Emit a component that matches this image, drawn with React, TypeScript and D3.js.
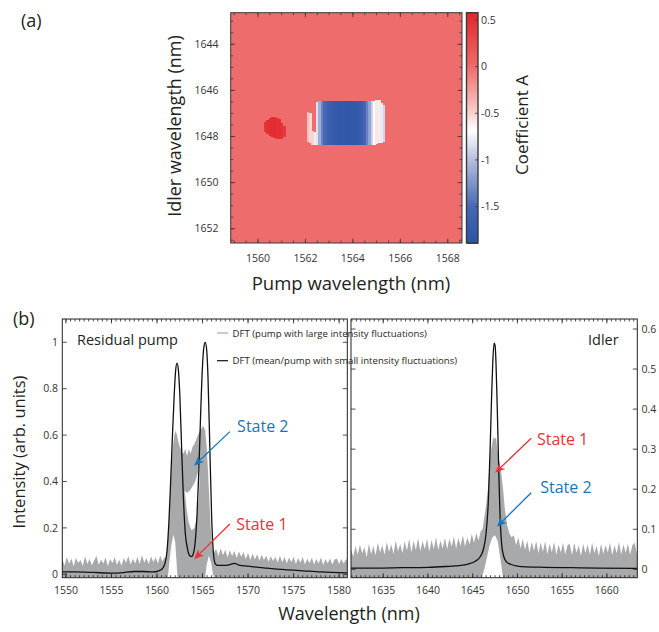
import React from 'react';
import * as d3 from 'd3';

const W = 659;
const H = 632;
const FONT = "'Open Sans', 'Noto Sans', sans-serif";
const INK = '#231f20';
const GRAY = '#a7a9ab';
const RED = '#ec3237';
const BLUE = '#1b75bc';

// ---------- (a) coefficient map ----------
const pumpTicks = [1560, 1562, 1564, 1566, 1568];
const idlerTicks = [1644, 1646, 1648, 1650, 1652];
const coefTicks = [0.5, 0, -0.5, -1, -1.5];
const coefStops = [-1.89, -1.5, -1.0, -0.68, -0.45, 0, 0.578];
const coefColors = ['#2b53a4', '#4767b4', '#b4bde0', '#ffffff', '#f9c6c4', '#ef6c6c', '#e3262b'];
const backgroundCoef = 0;

// red patch (columns of 0.1 nm)
const blobPump = [1560.3, 1560.4, 1560.5, 1560.6, 1560.7, 1560.8, 1560.9, 1561.0, 1561.1];
const blobTop = [1647.35, 1647.28, 1647.2, 1647.17, 1647.17, 1647.2, 1647.25, 1647.4, 1647.55];
const blobBottom = [1647.8, 1647.9, 1647.98, 1648.02, 1648.05, 1648.1, 1648.12, 1648.1, 1648.02];
const blobValue = [0.45, 0.5, 0.52, 0.52, 0.52, 0.5, 0.5, 0.48, 0.42];

// blue block (columns of 0.1 nm)
const blockPump = [1562.1, 1562.2, 1562.3, 1562.4, 1562.5, 1562.6, 1562.7, 1562.8, 1562.9, 1563.0, 1563.1, 1563.2, 1563.3, 1563.4, 1563.5, 1563.6, 1563.7, 1563.8, 1563.9, 1564.0, 1564.1, 1564.2, 1564.3, 1564.4, 1564.5, 1564.6, 1564.7, 1564.8, 1564.9, 1565.0, 1565.1, 1565.2, 1565.3];
const blockTop = [1646.95, 1647.0, 1647.75, 1647.8, 1646.5, 1646.45, 1646.45, 1646.45, 1646.45, 1646.45, 1646.45, 1646.45, 1646.45, 1646.45, 1646.45, 1646.45, 1646.45, 1646.45, 1646.45, 1646.45, 1646.45, 1646.45, 1646.45, 1646.45, 1646.45, 1646.45, 1646.45, 1646.45, 1646.45, 1646.42, 1646.4, 1646.55, 1646.62];
const blockBottom = [1648.25, 1648.3, 1648.35, 1648.37, 1648.37, 1648.37, 1648.38, 1648.38, 1648.38, 1648.38, 1648.38, 1648.38, 1648.38, 1648.38, 1648.38, 1648.38, 1648.38, 1648.38, 1648.38, 1648.38, 1648.38, 1648.38, 1648.38, 1648.37, 1648.37, 1648.37, 1648.36, 1648.36, 1648.35, 1648.33, 1648.3, 1648.3, 1648.25];
const blockValue = [-0.42, -0.52, -0.5, -0.6, -0.82, -1.1, -1.35, -1.5, -1.6, -1.66, -1.7, -1.73, -1.76, -1.78, -1.8, -1.77, -1.8, -1.82, -1.79, -1.78, -1.8, -1.76, -1.72, -1.66, -1.5, -1.35, -1.15, -0.9, -0.68, -0.58, -0.6, -0.78, -0.88];

// ---------- (b) spectra ----------
const pumpWlTicks = [1550, 1555, 1560, 1565, 1570, 1575, 1580];
const idlerWlTicks = [1635, 1640, 1645, 1650, 1655, 1660];
const leftIntTicks = [0, 0.2, 0.4, 0.6, 0.8, 1];
const rightIntTicks = [0, 0.1, 0.2, 0.3, 0.4, 0.5, 0.6];

// mean spectrum, residual pump
const pumpMeanWl = [1549.6, 1551, 1553, 1555, 1556, 1557.5, 1558.5, 1559.5, 1560.2, 1560.6, 1560.9, 1561.1, 1561.3, 1561.5, 1561.7, 1561.9, 1562.05, 1562.2, 1562.35, 1562.5, 1562.7, 1562.9, 1563.1, 1563.35, 1563.6, 1563.8, 1564.0, 1564.2, 1564.4, 1564.6, 1564.8, 1565.0, 1565.15, 1565.3, 1565.45, 1565.6, 1565.8, 1566.0, 1566.2, 1566.4, 1566.7, 1567.5, 1568.0, 1568.5, 1569, 1570, 1572, 1574, 1576, 1578, 1580.9];
const pumpMean = [0.01, 0.01, 0.008, 0.005, 0.006, 0.012, 0.012, 0.01, 0.015, 0.025, 0.05, 0.1, 0.22, 0.4, 0.6, 0.78, 0.88, 0.91, 0.88, 0.78, 0.55, 0.33, 0.18, 0.11, 0.08, 0.076, 0.09, 0.14, 0.26, 0.45, 0.7, 0.9, 0.98, 1.0, 0.97, 0.85, 0.55, 0.25, 0.09, 0.045, 0.038, 0.038, 0.042, 0.047, 0.04, 0.035, 0.027, 0.02, 0.015, 0.01, 0.006];

// single-shot envelope, residual pump
const pumpFloorAStart = 1549.6;
const pumpFloorA = [0.065, 0.038, 0.074, 0.045, 0.068, 0.034, 0.071, 0.049, 0.062, 0.036, 0.078, 0.044, 0.066, 0.039, 0.059, 0.08, 0.041, 0.063, 0.046, 0.072, 0.035, 0.066, 0.048, 0.075, 0.04, 0.063, 0.037, 0.07, 0.05, 0.079, 0.042, 0.067, 0.046, 0.074, 0.044, 0.083, 0.05, 0.07, 0.043, 0.078, 0.052, 0.073, 0.047, 0.08, 0.055, 0.075];
const pumpPeakWl = [1561.0, 1561.15, 1561.3, 1561.45, 1561.6, 1561.75, 1561.9, 1562.05, 1562.2, 1562.35, 1562.5, 1562.7, 1562.9, 1563.1, 1563.3, 1563.5, 1563.7, 1563.9, 1564.1, 1564.3, 1564.5, 1564.7, 1564.9, 1565.1, 1565.3, 1565.45, 1565.6, 1565.75, 1565.9, 1566.05, 1566.2, 1566.35];
const pumpPeakHi = [0.07, 0.12, 0.22, 0.36, 0.47, 0.55, 0.6, 0.62, 0.6, 0.57, 0.55, 0.53, 0.52, 0.54, 0.51, 0.54, 0.52, 0.55, 0.56, 0.58, 0.6, 0.62, 0.63, 0.64, 0.62, 0.55, 0.45, 0.32, 0.2, 0.12, 0.09, 0.1];
const pumpFloorBStart = 1566.5;
const pumpFloorB = [0.108, 0.078, 0.112, 0.082, 0.106, 0.072, 0.104, 0.079, 0.1, 0.07, 0.098, 0.076, 0.095, 0.066, 0.093, 0.062, 0.09, 0.064, 0.086, 0.058, 0.084, 0.062, 0.08, 0.054, 0.078, 0.057, 0.076, 0.05, 0.08, 0.052, 0.074, 0.047, 0.072, 0.052, 0.076, 0.044, 0.07, 0.05, 0.074, 0.042, 0.068, 0.048, 0.071, 0.042, 0.066, 0.046, 0.072, 0.04, 0.066, 0.047, 0.069, 0.042, 0.064, 0.068, 0.044, 0.066, 0.047, 0.064, 0.066];
const pumpLowWl = [1549.4, 1561.2, 1561.35, 1561.55, 1561.8, 1562.0, 1562.15, 1562.25, 1565.3, 1565.45, 1565.7, 1565.95, 1566.15, 1566.3, 1581.2];
const pumpLow = [-0.012, -0.012, 0.05, 0.12, 0.17, 0.14, 0.05, -0.012, -0.012, 0.04, 0.08, 0.05, 0.0, -0.012, -0.012];
const pumpGapWl = [1563.05, 1563.3, 1563.6, 1563.9, 1564.2, 1564.5, 1564.75, 1564.6, 1564.35, 1564.1, 1563.8, 1563.5, 1563.25];
const pumpGap = [0.36, 0.35, 0.36, 0.38, 0.4, 0.44, 0.5, 0.33, 0.24, 0.2, 0.19, 0.22, 0.28];

// mean spectrum, idler
const idlerMeanWl = [1631.4, 1634, 1637, 1640, 1642, 1643.5, 1644.5, 1645.3, 1645.8, 1646.2, 1646.5, 1646.75, 1646.95, 1647.1, 1647.25, 1647.4, 1647.5, 1647.6, 1647.75, 1647.9, 1648.05, 1648.25, 1648.5, 1648.8, 1649.3, 1650, 1651, 1653, 1656, 1659, 1663.4];
const idlerMean = [0.003, 0.003, 0.004, 0.005, 0.007, 0.009, 0.013, 0.02, 0.03, 0.05, 0.09, 0.17, 0.3, 0.42, 0.52, 0.565, 0.56, 0.52, 0.4, 0.26, 0.14, 0.06, 0.03, 0.018, 0.012, 0.008, 0.006, 0.005, 0.004, 0.003, 0.002];

// single-shot envelope, idler
const idlerFloorAStart = 1631.4;
const idlerFloorA = [0.05, 0.032, 0.058, 0.036, 0.062, 0.04, 0.055, 0.03, 0.064, 0.038, 0.058, 0.035, 0.066, 0.042, 0.06, 0.036, 0.068, 0.044, 0.062, 0.038, 0.072, 0.045, 0.064, 0.04, 0.07, 0.046, 0.076, 0.042, 0.072, 0.048, 0.078, 0.045, 0.07, 0.05, 0.076, 0.044, 0.074, 0.05, 0.08, 0.048, 0.072, 0.052, 0.078, 0.05, 0.076, 0.056, 0.082, 0.052, 0.078, 0.058, 0.085, 0.056, 0.08, 0.062, 0.088, 0.066, 0.09, 0.072, 0.095];
const idlerPeakWl = [1646.1, 1646.3, 1646.5, 1646.7, 1646.85, 1647.0, 1647.15, 1647.3, 1647.45, 1647.6, 1647.75, 1647.9, 1648.05, 1648.2, 1648.4, 1648.6, 1648.85, 1649.1, 1649.35];
const idlerPeakHi = [0.1, 0.13, 0.16, 0.2, 0.25, 0.29, 0.31, 0.33, 0.325, 0.33, 0.3, 0.28, 0.26, 0.24, 0.2, 0.15, 0.11, 0.09, 0.08];
const idlerFloorBStart = 1649.6;
const idlerFloorB = [0.085, 0.06, 0.08, 0.052, 0.076, 0.048, 0.072, 0.042, 0.068, 0.046, 0.07, 0.04, 0.066, 0.044, 0.07, 0.038, 0.064, 0.042, 0.068, 0.036, 0.062, 0.042, 0.066, 0.037, 0.06, 0.064, 0.035, 0.066, 0.041, 0.06, 0.034, 0.064, 0.04, 0.062, 0.036, 0.066, 0.04, 0.058, 0.033, 0.064, 0.038, 0.06, 0.042, 0.066, 0.035, 0.06, 0.04, 0.068, 0.037, 0.062, 0.041, 0.064, 0.036, 0.06, 0.066, 0.04, 0.062];
const idlerLowWl = [1631.2, 1646.0, 1646.3, 1646.6, 1646.9, 1647.2, 1647.5, 1647.8, 1648.0, 1648.2, 1648.4, 1663.6];
const idlerLow = [-0.022, -0.022, 0.0, 0.03, 0.06, 0.08, 0.085, 0.07, 0.04, 0.01, -0.022, -0.022];

const step = 0.25;

const pumpNotes = [
  { label: 'State 2', color: BLUE, tail: [1568.0, 0.615], tip: [1564.07, 0.468], text: [1568.8, 0.615] },
  { label: 'State 1', color: RED, tail: [1568.0, 0.217], tip: [1564.07, 0.065], text: [1568.7, 0.19] },
];
const idlerNotes = [
  { label: 'State 1', color: RED, tail: [1651.54, 0.327], tip: [1647.51, 0.241], text: [1652.18, 0.31] },
  { label: 'State 2', color: BLUE, tail: [1651.54, 0.191], tip: [1647.7, 0.106], text: [1652.55, 0.19] },
];

const legendItems = [
  { label: 'DFT (pump with large intensity fluctuations)', color: GRAY },
  { label: 'DFT (mean/pump with small intensity fluctuations)', color: '#111' },
];

const stepsIn = (lo: number, hi: number, s: number) =>
  d3.range(Math.ceil(lo / s - 1e-9), Math.floor(hi / s + 1e-9) + 1).map(k => +(k * s).toFixed(4));

function Arrow({ x1, y1, x2, y2, color }: any) {
  const a = Math.atan2(y2 - y1, x2 - x1);
  const L = 10, w = 4.2;
  const bx = x2 - L * Math.cos(a), by = y2 - L * Math.sin(a);
  const nx = x2 - L * 0.72 * Math.cos(a), ny = y2 - L * 0.72 * Math.sin(a);
  const px = -Math.sin(a) * w, py = Math.cos(a) * w;
  return (
    <g>
      <line x1={x1} y1={y1} x2={nx} y2={ny} stroke={color} strokeWidth={1.3} />
      <polygon points={`${x2},${y2} ${bx + px},${by + py} ${nx},${ny} ${bx - px},${by - py}`} fill={color} />
    </g>
  );
}

function xTickMarks(sx: any, vals: number[], top: number, bottom: number, len: number, key: string) {
  return vals.map((v, i) => (
    <g key={key + i}>
      <line x1={sx(v)} x2={sx(v)} y1={bottom} y2={bottom - len} />
      <line x1={sx(v)} x2={sx(v)} y1={top} y2={top + len} />
    </g>
  ));
}

function yTickMarks(sy: any, vals: number[], left: number, right: number, len: number, key: string) {
  return vals.map((v, i) => (
    <g key={key + i}>
      <line y1={sy(v)} y2={sy(v)} x1={left} x2={left + len} />
      <line y1={sy(v)} y2={sy(v)} x1={right} x2={right - len} />
    </g>
  ));
}

function envelope(sx: any, sy: any, floorAStart: number, floorA: number[], peakWl: number[], peakHi: number[], floorBStart: number, floorB: number[], lowWl: number[], low: number[]) {
  const upper: [number, number][] = [
    ...floorA.map((v, i) => [floorAStart + i * step, v] as [number, number]),
    ...peakWl.map((w, i) => [w, peakHi[i]] as [number, number]),
    ...floorB.map((v, i) => [floorBStart + i * step, v] as [number, number]),
  ];
  const lower: [number, number][] = lowWl.map((w, i) => [w, low[i]] as [number, number]).reverse();
  const pts = [...upper, ...lower].map(([w, v]) => [sx(w), sy(v)] as [number, number]);
  return d3.line()(pts) + 'Z';
}

export default function App() {
  // (a) geometry
  const xH = d3.scaleLinear().domain([1558.85, 1568.6]).range([230.7, 462]);
  const yH = d3.scaleLinear().domain([1642.63, 1652.62]).range([12.7, 243]);
  const cbX0 = 466.5, cbX1 = 478;
  const yC = d3.scaleLinear().domain([-1.89, 0.578]).range([243, 12.7]);
  const color = d3.scaleLinear<string>().domain(coefStops).range(coefColors).interpolate(d3.interpolateRgb).clamp(true);

  // (b) geometry
  const top = 319, bottom = 577.7;
  const xL = d3.scaleLinear().domain([1549.6, 1580.9]).range([62.3, 347.3]);
  const yL = d3.scaleLinear().domain([-0.0147, 1.1004]).range([bottom, top]);
  const xR = d3.scaleLinear().domain([1631.4, 1663.4]).range([351, 637.3]);
  const yR = d3.scaleLinear().domain([-0.021, 0.625]).range([bottom, top]);

  const lineL = d3.line<number>().x((_, i) => xL(pumpMeanWl[i])).y(d => yL(d)).curve(d3.curveMonotoneX);
  const lineR = d3.line<number>().x((_, i) => xR(idlerMeanWl[i])).y(d => yR(d)).curve(d3.curveMonotoneX);

  const gapPath = d3.line()(pumpGapWl.map((w, i) => [xL(w), yL(pumpGap[i])] as [number, number])) + 'Z';

  const cbValues = d3.range(-1.89, 0.578, 0.01);

  const tickFont = 10.5;

  return (
    <svg width={W} height={H} style={{ position: 'absolute', left: 0, top: 0, background: '#fff' }} fontFamily={FONT}>
      <defs>
        <clipPath id="clipL"><rect x={xL.range()[0]} y={top} width={xL.range()[1] - xL.range()[0]} height={bottom - top} /></clipPath>
        <clipPath id="clipR"><rect x={xR.range()[0]} y={top} width={xR.range()[1] - xR.range()[0]} height={bottom - top} /></clipPath>
      </defs>

      {/* ---------- (a) ---------- */}
      <text x={21} y={27} fontSize={18} fill={INK}>(a)</text>
      <rect x={xH.range()[0]} y={yH.range()[0]} width={xH.range()[1] - xH.range()[0]} height={yH.range()[1] - yH.range()[0]} fill={color(backgroundCoef)} />
      <g shapeRendering="crispEdges">
        {blobPump.map((p, i) => (
          <rect key={'b' + i} x={xH(p - 0.05)} width={xH(p + 0.05) - xH(p - 0.05) + 0.5} y={yH(blobTop[i])} height={yH(blobBottom[i]) - yH(blobTop[i])} fill={color(blobValue[i])} />
        ))}
        {blockPump.map((p, i) => (
          <rect key={'k' + i} x={xH(p - 0.05)} width={xH(p + 0.05) - xH(p - 0.05) + 0.5} y={yH(blockTop[i])} height={yH(blockBottom[i]) - yH(blockTop[i])} fill={color(blockValue[i])} />
        ))}
      </g>
      <g stroke="#3a3a3a" strokeWidth={0.8}>
        {xTickMarks(xH, stepsIn(1559, 1568.6, 0.5), yH.range()[0], yH.range()[1], 2.5, 'hxm')}
        {xTickMarks(xH, pumpTicks, yH.range()[0], yH.range()[1], 4.5, 'hxM')}
        {yTickMarks(yH, stepsIn(1642.7, 1652.6, 0.5), xH.range()[0], xH.range()[1], 2.5, 'hym')}
        {yTickMarks(yH, idlerTicks, xH.range()[0], xH.range()[1], 4.5, 'hyM')}
      </g>
      <rect x={xH.range()[0]} y={yH.range()[0]} width={xH.range()[1] - xH.range()[0]} height={yH.range()[1] - yH.range()[0]} fill="none" stroke="#3a3a3a" strokeWidth={1} />
      {pumpTicks.map(v => (
        <text key={'hx' + v} x={xH(v)} y={261.5} textAnchor="middle" fontSize={tickFont} fill="#333">{v}</text>
      ))}
      {idlerTicks.map(v => (
        <text key={'hy' + v} x={218.5} y={yH(v)} dy="0.35em" textAnchor="end" fontSize={tickFont} fill="#333">{v}</text>
      ))}
      <text x={351} y={290} textAnchor="middle" fontSize={18.5} fill={INK}>Pump wavelength (nm)</text>
      <text transform="translate(181,126) rotate(-90)" textAnchor="middle" fontSize={18} fill={INK}>Idler wavelength (nm)</text>

      {/* colour bar */}
      <g shapeRendering="crispEdges">
        {cbValues.map((v, i) => (
          <rect key={'c' + i} x={cbX0} width={cbX1 - cbX0} y={yC(v + 0.01)} height={yC(v) - yC(v + 0.01) + 0.6} fill={color(v + 0.005)} />
        ))}
      </g>
      <rect x={cbX0} y={yC.range()[1]} width={cbX1 - cbX0} height={yC.range()[0] - yC.range()[1]} fill="none" stroke="#3a3a3a" strokeWidth={1.4} />
      <g stroke="#3a3a3a" strokeWidth={0.8}>
        {coefTicks.map(v => <line key={'ct' + v} x1={cbX1} x2={cbX1 - 3} y1={yC(v)} y2={yC(v)} />)}
      </g>
      {coefTicks.map(v => (
        <text key={'cl' + v} x={481} y={yC(v)} dy="0.35em" fontSize={tickFont} fill="#333">{String(v)}</text>
      ))}
      <text transform="translate(528,125) rotate(-90)" textAnchor="middle" fontSize={17} fill={INK}>Coefficient A</text>

      {/* ---------- (b) ---------- */}
      <text x={13} y={325} fontSize={18} fill={INK}>(b)</text>

      {/* left panel */}
      <g clipPath="url(#clipL)">
        <path d={envelope(xL, yL, pumpFloorAStart, pumpFloorA, pumpPeakWl, pumpPeakHi, pumpFloorBStart, pumpFloorB, pumpLowWl, pumpLow)} fill={GRAY} />
        <path d={gapPath} fill="#fff" />
        <path d={lineL(pumpMean) || ''} fill="none" stroke="#111" strokeWidth={1.3} />
      </g>
      <g stroke="#222" strokeWidth={0.8}>
        {xTickMarks(xL, stepsIn(1550, 1580.9, 0.5), top, bottom, 2.5, 'lxm')}
        {xTickMarks(xL, pumpWlTicks, top, bottom, 4.5, 'lxM')}
        {yTickMarks(yL, leftIntTicks, xL.range()[0], xL.range()[1], 4.5, 'lyM')}
      </g>
      <rect x={xL.range()[0]} y={top} width={xL.range()[1] - xL.range()[0]} height={bottom - top} fill="none" stroke="#222" strokeWidth={1} />
      {pumpWlTicks.map(v => (
        <text key={'lx' + v} x={xL(v)} y={594} textAnchor="middle" fontSize={tickFont} fill="#333">{v}</text>
      ))}
      {leftIntTicks.map(v => (
        <text key={'ly' + v} x={58} y={yL(v)} dy="0.35em" textAnchor="end" fontSize={tickFont} fill="#333">{String(v)}</text>
      ))}
      <text x={77} y={345} fontSize={14.5} fill={INK}>Residual pump</text>

      {/* right panel */}
      <g clipPath="url(#clipR)">
        <path d={envelope(xR, yR, idlerFloorAStart, idlerFloorA, idlerPeakWl, idlerPeakHi, idlerFloorBStart, idlerFloorB, idlerLowWl, idlerLow)} fill={GRAY} />
        <path d={lineR(idlerMean) || ''} fill="none" stroke="#111" strokeWidth={1.3} />
      </g>
      <g stroke="#222" strokeWidth={0.8}>
        {xTickMarks(xR, stepsIn(1631.5, 1663.4, 0.5), top, bottom, 2.5, 'rxm')}
        {xTickMarks(xR, idlerWlTicks, top, bottom, 4.5, 'rxM')}
        {yTickMarks(yR, rightIntTicks, xR.range()[0], xR.range()[1], 4.5, 'ryM')}
      </g>
      <rect x={xR.range()[0]} y={top} width={xR.range()[1] - xR.range()[0]} height={bottom - top} fill="none" stroke="#222" strokeWidth={1} />
      {idlerWlTicks.map(v => (
        <text key={'rx' + v} x={xR(v)} y={594} textAnchor="middle" fontSize={tickFont} fill="#333">{v}</text>
      ))}
      {rightIntTicks.map(v => (
        <text key={'ry' + v} x={641.5} y={yR(v)} dy="0.35em" fontSize={tickFont} fill="#333">{String(v)}</text>
      ))}
      <text x={588} y={345} fontSize={14.5} fill={INK}>Idler</text>

      {/* legend */}
      {legendItems.map((d, i) => (
        <g key={'lg' + i}>
          <line x1={217} x2={228} y1={333 + i * 27.7} y2={333 + i * 27.7} stroke={d.color} strokeWidth={1.2} />
          <text x={232.5} y={336.5 + i * 27.7} fontSize={9.6} fill={INK}>{d.label}</text>
        </g>
      ))}

      {/* annotations */}
      {pumpNotes.map((n, i) => (
        <g key={'pn' + i}>
          <Arrow x1={xL(n.tail[0])} y1={yL(n.tail[1])} x2={xL(n.tip[0])} y2={yL(n.tip[1])} color={n.color} />
          <text x={xL(n.text[0])} y={yL(n.text[1])} fontSize={16} fill={n.color}>{n.label}</text>
        </g>
      ))}
      {idlerNotes.map((n, i) => (
        <g key={'in' + i}>
          <Arrow x1={xR(n.tail[0])} y1={yR(n.tail[1])} x2={xR(n.tip[0])} y2={yR(n.tip[1])} color={n.color} />
          <text x={xR(n.text[0])} y={yR(n.text[1])} fontSize={16} fill={n.color}>{n.label}</text>
        </g>
      ))}

      <text x={349} y={620} textAnchor="middle" fontSize={18} fill={INK}>Wavelength (nm)</text>
      <text transform="translate(25,452) rotate(-90)" textAnchor="middle" fontSize={16.5} fill={INK}>Intensity (arb. units)</text>
    </svg>
  );
}
